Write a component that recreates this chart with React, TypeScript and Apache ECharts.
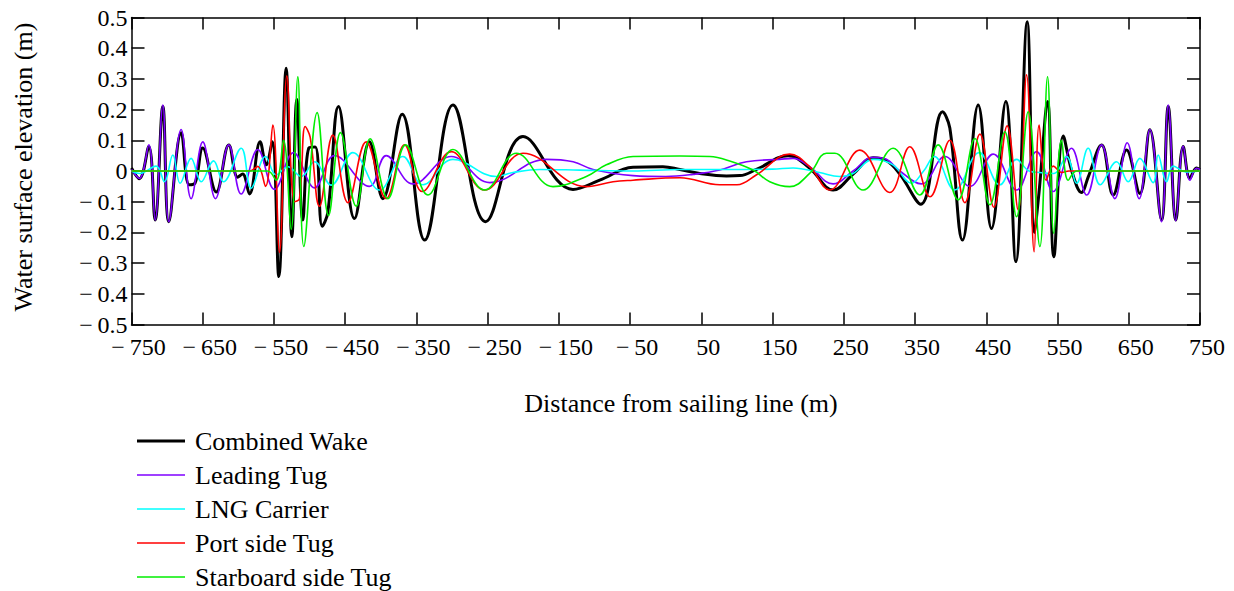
import React, { useEffect, useRef } from "react";
import * as echarts from "echarts";

const FONT = "'Liberation Serif', 'Times New Roman', serif";

const xTicks = [-750, -650, -550, -450, -350, -250, -150, -50, 50, 150, 250, 350, 450, 550, 650, 750];

const seriesNames = ["Combined Wake", "Leading Tug", "LNG Carrier", "Port side Tug", "Starboard side Tug"];
const seriesColors = ["#000000", "#7f00ff", "#00ffff", "#ff0000", "#00ee00"];

const combinedWake: [number, number][] = [
  [-750, 0.01], [-739, -0.025], [-725.7, 0.08], [-716.8, -0.16], [-706, 0.21], [-697.6, -0.165],
  [-680.3, 0.125], [-669, -0.045], [-661, -0.04], [-650, 0.075], [-631, -0.068], [-613.4, 0.085],
  [-601, -0.02], [-594, -0.01], [-584.4, -0.075], [-569.4, 0.095], [-561, 0.02], [-552.5, 0.095],
  [-543.2, -0.344], [-532.9, 0.335], [-524.9, -0.214], [-517.9, 0.233], [-509.5, -0.16], [-501, 0.075],
  [-492, 0.078], [-482.3, -0.18], [-474.4, -0.135], [-459.4, 0.21], [-437, -0.155], [-416, 0.095],
  [-397, -0.09], [-370, 0.185], [-338.5, -0.225], [-298.7, 0.215], [-252.9, -0.165], [-200.4, 0.112],
  [-130.2, -0.06], [-92.8, -0.03], [-46, 0.012], [-4, 0.014], [19.7, 0.005], [47.8, -0.008],
  [85.2, -0.016], [104, -0.015], [127.3, 0.005], [171.8, 0.05], [202.2, 0.009], [235, -0.062],
  [263, -0.01], [291.1, 0.043], [309.8, 0.034], [328.6, -0.01], [358, -0.108], [388.5, 0.193],
  [398.8, 0.14], [416.6, -0.225], [438.6, 0.215], [457.3, -0.187], [477.4, 0.226], [491.5, -0.295],
  [507.4, 0.486], [517.5, -0.2], [524, -0.07], [536, 0.226], [544.8, -0.279], [558, 0.114],
  [570, 0.0], [583.7, -0.07], [593, -0.02], [611.8, 0.085], [628.1, -0.078], [646.9, 0.068],
  [665.6, -0.073], [679.6, 0.134], [696, -0.16], [705.4, 0.21], [716.1, -0.16], [726.4, 0.08],
  [735.8, -0.024], [745, 0.01], [750, 0.005],
];

const leadingTug: [number, number][] = [
  [-750, 0.005], [-739, -0.024], [-725.7, 0.085], [-716.8, -0.16], [-706, 0.215], [-697.6, -0.165],
  [-680.3, 0.135], [-666.3, -0.09], [-649.9, 0.095], [-632.1, -0.09], [-613.4, 0.085], [-596.1, -0.075],
  [-572.7, 0.07], [-549.3, -0.06], [-522.6, 0.06], [-493.1, -0.055], [-465, 0.05], [-416, -0.05],
  [-392.5, 0.05], [-354.9, -0.042], [-301, 0.047], [-247.2, -0.038], [-167.7, 0.038], [-130, 0.03],
  [-102, 0.005], [-46, -0.015], [0, -0.018], [38.4, -0.011], [75.8, 0.003], [113.3, 0.03],
  [160, 0.038], [178.8, 0.041], [202, 0.014], [235, -0.042], [263, 0.0], [291, 0.045],
  [309.8, 0.038], [328.6, 0.0], [359, -0.042], [391.8, 0.047], [427, -0.05], [459.7, 0.055],
  [492.4, -0.062], [520.5, 0.063], [543.9, -0.067], [569.6, 0.074], [591, -0.078], [611.8, 0.085],
  [630.5, -0.09], [647.8, 0.092], [664.6, -0.09], [679.6, 0.135], [696, -0.165], [705.4, 0.215],
  [716.1, -0.162], [726.4, 0.081], [735.8, -0.03], [745, 0.009], [750, 0.005],
];

const lngCarrier: [number, number][] = [
  [-750, 0.0], [-738.8, -0.008], [-715.4, 0.016], [-703.7, -0.035], [-692, 0.052], [-681.7, -0.04],
  [-666.3, 0.041], [-652.2, -0.035], [-634.9, 0.033], [-620.9, -0.035], [-596, 0.074], [-582, -0.056],
  [-561.9, 0.047], [-547, -0.013], [-530.5, 0.014], [-511.8, -0.018], [-493, 0.03], [-469.7, -0.046],
  [-439.3, 0.06], [-401.8, -0.062], [-369, 0.047], [-340.8, -0.045], [-298.7, 0.038], [-237.9, -0.018],
  [-214.5, -0.005], [-177, 0.005], [-121, 0.003], [-46, 0.0], [20, 0.005], [100, 0.005],
  [150, 0.006], [178.8, 0.01], [216, -0.005], [244, -0.018], [263, -0.008], [291, 0.038],
  [319, 0.02], [345, -0.04], [362, 0.0], [377, 0.047], [405.8, -0.062], [440, 0.06],
  [469, -0.045], [492.4, 0.038], [510, 0.0], [525, -0.005], [545, -0.008], [562.6, 0.047],
  [576.7, -0.04], [593, 0.074], [610, -0.045], [632.8, 0.03], [649.2, -0.035], [665.6, 0.041],
  [684.3, -0.038], [691.3, 0.052], [703, -0.035], [712.4, 0.016], [731, -0.003], [750, 0.0],
];

const portSideTug: [number, number][] = [
  [-750, 0], [-584, 0], [-572.7, 0.015], [-561.9, -0.05], [-551.6, 0.15], [-542.2, -0.265],
  [-531.9, 0.31], [-521.2, -0.1], [-514.2, -0.09], [-506.2, 0.145], [-499.2, 0.11], [-486.1, -0.115],
  [-467.4, 0.117], [-446.3, -0.103], [-420.6, 0.095], [-392.5, -0.09], [-366.6, 0.085], [-341.8, -0.067],
  [-301, 0.063], [-254.3, -0.062], [-200.4, 0.058], [-111.5, -0.051], [-74, -0.035], [-46, -0.03],
  [20, -0.022], [75.8, -0.045], [100, -0.045], [127, -0.013], [174, 0.055], [202, 0.014],
  [230, -0.062], [272.4, 0.068], [314.5, -0.07], [342.6, 0.079], [371, -0.084], [398.8, 0.1],
  [419.9, -0.103], [441, 0.12], [460.6, -0.118], [479.3, 0.147], [494.8, -0.127], [506.5, 0.313],
  [517.2, -0.263], [524.2, 0.15], [534, -0.03], [544, 0.016], [556, -0.005], [566, 0], [750, 0],
];

const starboardSideTug: [number, number][] = [
  [-750, 0], [-559, 0], [-546.9, -0.03], [-536.6, 0.1], [-525.9, -0.19], [-516.5, 0.307],
  [-508.1, -0.246], [-489.4, 0.19], [-473.4, -0.145], [-456.6, 0.125], [-434.6, -0.115], [-415, 0.105],
  [-390.1, -0.09], [-365.2, 0.085], [-333.8, -0.078], [-298.7, 0.07], [-254.3, -0.062], [-209.8, 0.058],
  [-158.3, -0.051], [-111.5, -0.018], [-83.4, 0.02], [-46, 0.047], [20, 0.049], [61.8, 0.047],
  [85.2, 0.036], [122.6, 0.003], [146, -0.035], [174, -0.051], [202, -0.008], [225.6, 0.058],
  [237.3, 0.058], [277, -0.062], [319.2, 0.074], [356.6, -0.078], [382.4, 0.085], [410.5, -0.094],
  [434, 0.106], [455, -0.11], [476, 0.128], [492.4, -0.149], [508.8, 0.193], [525.2, -0.246],
  [536, 0.307], [544.8, -0.203], [555.6, 0.1], [565, -0.03], [577, 0], [750, 0],
];

const seriesData = [combinedWake, leadingTug, lngCarrier, portSideTug, starboardSideTug];
const seriesWidths = [3, 1.6, 1.6, 1.6, 1.6];

// thin horizontal bar inside a 48x14 box, so legend icons look like line samples
const legendIcon = (w: number) =>
  `path://M0,0M0,${7 - w / 2}H48V${7 + w / 2}H0ZM48,14`;

const MINUS = "\u2212\u2009";
const fmtX = (v: number) => (v < 0 ? MINUS + Math.abs(v) : String(v));
const fmtY = (v: number) => {
  const r = Math.round(v * 10) / 10;
  if (r === 0) return "0";
  return r < 0 ? MINUS + Math.abs(r).toFixed(1) : r.toFixed(1);
};

export default function App() {
  const ref = useRef<HTMLDivElement>(null);
  useEffect(() => {
    const chart = echarts.init(ref.current!, null, { renderer: "svg" });
    const axisLine = { show: true, onZero: false, lineStyle: { color: "#000", width: 1.5 } };
    const tickStyle = { color: "#000", width: 1.5 };
    chart.setOption({
      animation: false,
      backgroundColor: "#fff",
      textStyle: { fontFamily: FONT },
      grid: { left: 131.5, right: 34, top: 17.5, bottom: 266.5, containLabel: false },
      xAxis: [
        {
          type: "value", min: -750, max: 750, position: "bottom",
          axisLine,
          axisTick: { show: true, inside: true, length: 12, customValues: xTicks, lineStyle: tickStyle },
          axisLabel: {
            customValues: xTicks, formatter: fmtX, fontFamily: FONT, fontSize: 24, color: "#000",
            margin: 10, padding: [0, 0, 0, 14],
          },
          splitLine: { show: false },
        },
        {
          type: "value", min: -750, max: 750, position: "top",
          axisLine,
          axisTick: { show: true, inside: true, length: 12, customValues: xTicks, lineStyle: tickStyle },
          axisLabel: { show: false },
          splitLine: { show: false },
        },
      ],
      yAxis: [
        {
          type: "value", min: -0.5, max: 0.5, interval: 0.1, position: "left",
          axisLine,
          axisTick: { show: true, inside: true, length: 13, lineStyle: tickStyle },
          axisLabel: { formatter: fmtY, fontFamily: FONT, fontSize: 24, color: "#000", margin: 4, padding: [3, 0, 0, 0] },
          splitLine: { show: false },
        },
        {
          type: "value", min: -0.5, max: 0.5, interval: 0.1, position: "right",
          axisLine,
          axisTick: { show: true, inside: true, length: 13, lineStyle: tickStyle },
          axisLabel: { show: false },
          splitLine: { show: false },
        },
      ],
      legend: {
        orient: "vertical", left: 137, top: 428, height: 162, padding: 0,
        itemWidth: 48, itemHeight: 14, itemGap: 8,
        selectedMode: false,
        data: seriesNames.map((name, i) => ({ name, icon: legendIcon(seriesWidths[i]) })),
        textStyle: { fontFamily: FONT, fontSize: 26, color: "#000", lineHeight: 26, padding: [0, 0, 0, 5] },
      },
      graphic: [
        {
          type: "text", x: 681, y: 403,
          style: {
            text: "Distance from sailing line (m)", font: `26px ${FONT}`, fontFamily: FONT, fontSize: 26, fill: "#000",
            align: "center", verticalAlign: "middle", textAlign: "center", textVerticalAlign: "middle",
          },
        },
        {
          type: "text", x: 23, y: 167, rotation: Math.PI / 2,
          style: {
            text: "Water surface elevation (m)", font: `26px ${FONT}`, fontFamily: FONT, fontSize: 26, fill: "#000",
            align: "center", verticalAlign: "middle", textAlign: "center", textVerticalAlign: "middle",
          },
        },
      ],
      series: seriesNames.map((name, i) => ({
        name,
        type: "line",
        xAxisIndex: 0,
        yAxisIndex: 0,
        data: seriesData[i],
        showSymbol: false,
        symbol: "none",
        smooth: 0.4,
        clip: true,
        lineStyle: { color: seriesColors[i], width: seriesWidths[i] },
        itemStyle: { color: seriesColors[i] },
      })),
    });
    return () => chart.dispose();
  }, []);
  return <div ref={ref} style={{ position: "absolute", left: 0, top: 0, width: 1234, height: 591 }} />;
}
